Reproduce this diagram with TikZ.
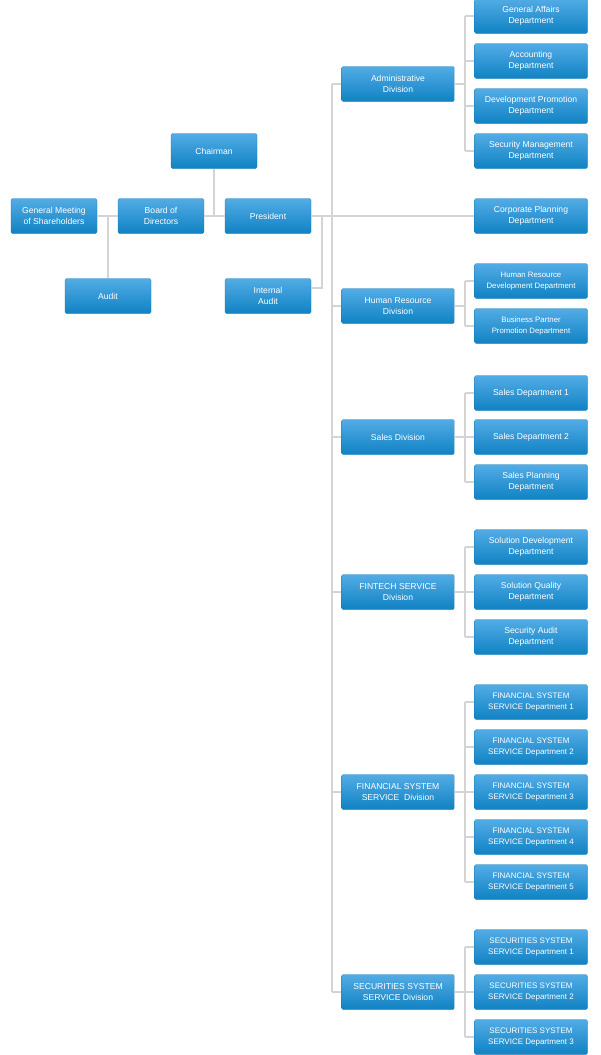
\documentclass[tikz,border=0pt]{standalone}
\usepackage{fontspec}
\setmainfont{Liberation Sans}
\usepackage{tikz}
\usetikzlibrary{positioning,calc,shadings}
\definecolor{boxtop}{RGB}{82, 172, 230}
\definecolor{boxbot}{RGB}{16, 130, 194}
\definecolor{boxedge}{RGB}{20, 120, 180}
\definecolor{linkgray}{RGB}{212, 212, 212}

\tikzset{
    unit/.style={rectangle, rounded corners=1.5pt, minimum width=86pt, minimum height=35pt,
        top color=boxtop, bottom color=boxbot, draw=boxedge, line width=0.3pt,
        text=white, align=center, font=\fontsize{8.6}{11.5}\selectfont, inner sep=1pt},
    wide/.style={unit, minimum width=113pt},
    link/.style={draw=linkgray, line width=1.4pt}
}

\begin{document}
\begin{tikzpicture}[x=1pt,y=-1pt]
    \useasboundingbox (0,0) rectangle (600,1055);

    % top management
    \node[unit] (gms) at (54,216) {General Meeting\\of Shareholders};
    \node[unit] (board) at (161,216) {Board of\\Directors};
    \node[unit] (chair) at (214,151) {Chairman};
    \node[unit] (pres) at (268,216) {President};
    \node[unit] (audit) at (108,296) {Audit};
    \node[unit] (iaudit) at (268,296) {Internal\\Audit};

    \draw[link] (gms) -- (board);
    \draw[link] (audit) -- (audit |- board);
    \draw[link] (board) -- (pres);
    \draw[link] (chair) -- (chair |- pres);
    \coordinate (ia) at (322,288);
    \draw[link] (iaudit.east |- ia) -- (ia) -- (ia |- pres);

    % divisions
    \node[wide] (adm) at (398,84) {Administrative\\Division};
    \node[wide] (hr) at (398,306) {Human Resource\\Division};
    \node[wide] (sales) at (398,437) {Sales Division};
    \node[wide] (fin) at (398,592) {FINTECH SERVICE\\Division};
    \node[wide] (fss) at (398,792) {FINANCIAL SYSTEM\\SERVICE\ \ Division};
    \node[wide] (sec) at (398,992) {SECURITIES SYSTEM\\SERVICE Division};

    \node[wide] (corp) at (531,216) {Corporate Planning\\Department};

    \coordinate (trunktop) at (332,84);
    \coordinate (trunkbot) at (332,992);
    \draw[link] (trunktop) -- (trunkbot);
    \draw[link] (pres) -- (corp);
    \foreach \d in {adm,hr,sales,fin,fss,sec}
        \draw[link] (\d.west) -- (\d.west -| trunktop);

    % departments
    \foreach \d/\y/\t in {adm1/16/{General Affairs\\Department},
                          adm2/61/{Accounting\\Department},
                          adm3/106/{Development Promotion\\Department},
                          adm4/151/{Security Management\\Department},
                          sales1/393/{Sales Department 1},
                          sales2/437/{Sales Department 2},
                          sales3/482/{Sales Planning\\Department},
                          fin1/547/{Solution Development\\Department},
                          fin2/592/{Solution Quality\\Department},
                          fin3/637/{Security Audit\\Department}}
        \node[wide] (\d) at (531,\y) {\t};
    \foreach \d/\y/\t in {hr1/281/{Human Resource\\Development Department},
                          hr2/326/{Business Partner\\Promotion Department}}
        \node[wide, font=\fontsize{7.8}{11}\selectfont] (\d) at (531,\y) {\t};
    \foreach \i/\y in {1/702,2/747,3/792,4/837,5/882}
        \node[wide, font=\fontsize{8}{11.5}\selectfont] (fss\i) at (531,\y) {FINANCIAL SYSTEM\\SERVICE Department \i};
    \foreach \i/\y in {1/947,2/992,3/1037}
        \node[wide, font=\fontsize{8}{11.5}\selectfont] (sec\i) at (531,\y) {SECURITIES SYSTEM\\SERVICE Department \i};

    % division to department links
    \foreach \d/\n in {adm/4,hr/2,sales/3,fin/3,fss/5,sec/3} {
        \coordinate (\d bus) at (465,0);
        \draw[link] (\d.east) -- (\d.east -| \d bus);
        \draw[link] (\d 1.west -| \d bus) -- (\d\n.west -| \d bus);
        \foreach \k in {1,...,\n}
            \draw[link] (\d\k.west -| \d bus) -- (\d\k.west);
    }
\end{tikzpicture}
\end{document}
